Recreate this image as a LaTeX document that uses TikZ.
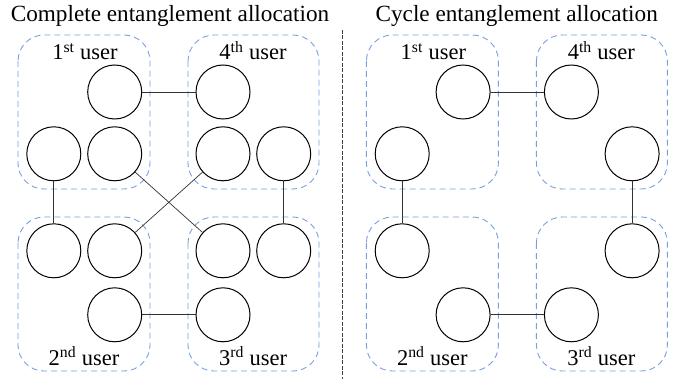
\documentclass[tikz,border=0pt]{standalone}
\usepackage{fontspec}
\setmainfont{Liberation Serif}
\definecolor{boxblue}{RGB}{120,160,225}
\definecolor{linkgray}{RGB}{50,50,50}
\begin{document}
\begin{tikzpicture}[x=1pt,y=-1pt,
  qubit/.style={circle,draw=black,line width=1pt,minimum size=54pt,inner sep=0pt},
  userbox/.style={draw=boxblue,line width=0.9pt,dash pattern=on 6pt off 4pt,rounded corners=26pt},
  link/.style={draw=linkgray,line width=0.7pt},
  ulabel/.style={font=\fontsize{22.5}{27}\selectfont,anchor=base,inner sep=0pt},
  ttl/.style={font=\fontsize{23.2}{28}\selectfont,anchor=base,inner sep=0pt}]
\useasboundingbox (0,0) rectangle (682,379);
% divider
\draw[draw=black!75,line width=1.3pt,dash pattern=on 4pt off 1.5pt] (342.7,30) coordinate (dtop) -- (342.7,379) coordinate (dbot);
% titles
\node[ttl] (t1) at (170,22) {Complete entanglement allocation};
\node[ttl] (t2) at (516.7,22) {Cycle entanglement allocation};
% ---------- left panel ----------
\draw[userbox] (18,35) rectangle (150,189);
\draw[userbox] (188,35) rectangle (319,189);
\draw[userbox] (18,217) rectangle (150,371);
\draw[userbox] (188,217) rectangle (319,371);
\node[ulabel] (l1) at (85,60) {1\textsuperscript{st} user};
\node[ulabel] (l4) at (253,60) {4\textsuperscript{th} user};
\node[ulabel] (l2) at (84,365) {2\textsuperscript{nd} user};
\node[ulabel] (l3) at (253,365) {3\textsuperscript{rd} user};
\node[qubit] (a1t) at (114.7,92) {};
\node[qubit] (a1l) at (53.8,153.8) {};
\node[qubit] (a1r) at (114.7,153.8) {};
\node[qubit] (a4t) at (223,92) {};
\node[qubit] (a4l) at (223,153.8) {};
\node[qubit] (a4r) at (283.7,153.8) {};
\node[qubit] (a2l) at (53.8,250.8) {};
\node[qubit] (a2r) at (114.7,250.8) {};
\node[qubit] (a2b) at (114.7,314.8) {};
\node[qubit] (a3l) at (223,250.8) {};
\node[qubit] (a3r) at (283.7,250.8) {};
\node[qubit] (a3b) at (223,314.8) {};
\draw[link] (a1t) -- (a4t);
\draw[link] (a1l) -- (a2l);
\draw[link] (a4r) -- (a3r);
\draw[link] (a1r) -- (a3l);
\draw[link] (a4l) -- (a2r);
\draw[link] (a2b) -- (a3b);
% ---------- right panel ----------
\begin{scope}[xshift=348.4pt]
\draw[userbox] (18,35) rectangle (150,189);
\draw[userbox] (188,35) rectangle (319,189);
\draw[userbox] (18,217) rectangle (150,371);
\draw[userbox] (188,217) rectangle (319,371);
\node[ulabel] (r1) at (85,60) {1\textsuperscript{st} user};
\node[ulabel] (r4) at (253,60) {4\textsuperscript{th} user};
\node[ulabel] (r2) at (84,365) {2\textsuperscript{nd} user};
\node[ulabel] (r3) at (253,365) {3\textsuperscript{rd} user};
\node[qubit] (b1t) at (114.7,92) {};
\node[qubit] (b1l) at (53.8,153.8) {};
\node[qubit] (b4t) at (223,92) {};
\node[qubit] (b4r) at (283.7,153.8) {};
\node[qubit] (b2l) at (53.8,250.8) {};
\node[qubit] (b2b) at (114.7,314.8) {};
\node[qubit] (b3r) at (283.7,250.8) {};
\node[qubit] (b3b) at (223,314.8) {};
\draw[link] (b1t) -- (b4t);
\draw[link] (b1l) -- (b2l);
\draw[link] (b4r) -- (b3r);
\draw[link] (b2b) -- (b3b);
\end{scope}
\end{tikzpicture}
\end{document}
